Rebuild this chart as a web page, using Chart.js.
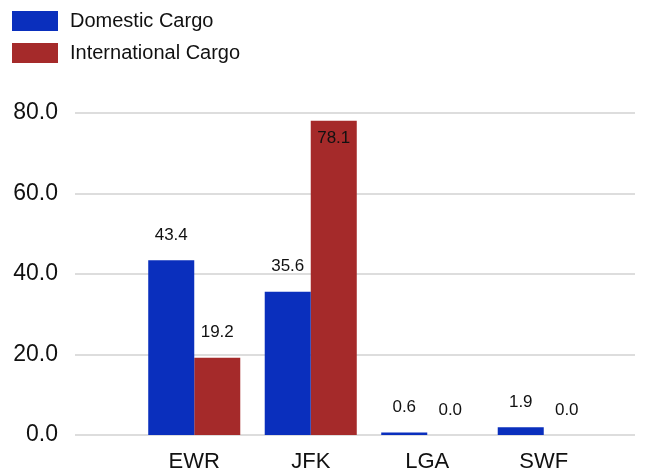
<!DOCTYPE html>
<html><head><meta charset="utf-8">
<script src="https://cdn.jsdelivr.net/npm/chart.js@4"></script>
<style>html,body{margin:0;padding:0;background:#fff}#w{width:646px;height:476px;position:relative}
.lg{position:absolute;left:12px;font:20px 'Liberation Sans',Arial,sans-serif;color:#111;display:flex;align-items:center}
.lg i{display:inline-block;width:46px;height:20px;margin-right:12px}</style>
</head><body><div id="w"><canvas id="c" width="646" height="476"></canvas>
<div class="lg" style="top:9px"><i style="background:#0a2fbd"></i>Domestic Cargo</div>
<div class="lg" style="top:41px"><i style="background:#a52a2a"></i>International Cargo</div>
</div>
<script>
const categories = ['EWR','JFK','LGA','SWF'];
const domestic = [43.4, 35.6, 0.6, 1.9];
const international = [19.2, 78.1, 0.0, 0.0];
const yTicks = [0, 20, 40, 60, 80];
const FONT = "'Liberation Sans', Arial, sans-serif";

const gridPlugin = {
  id: 'grid',
  beforeDatasetsDraw(chart) {
    const ctx = chart.ctx, y = chart.scales.y;
    ctx.save();
    ctx.strokeStyle = '#dddddd'; ctx.lineWidth = 2;
    yTicks.forEach(v => { const p = Math.round(y.getPixelForValue(v)); ctx.beginPath(); ctx.moveTo(75, p); ctx.lineTo(635, p); ctx.stroke(); });
    ctx.restore();
  },
  afterDatasetsDraw(chart) {
    const ctx = chart.ctx;
    ctx.save();
    ctx.font = '17px ' + FONT; ctx.fillStyle = '#111'; ctx.textAlign = 'center'; ctx.textBaseline = 'middle';
    chart.data.datasets.forEach((ds, i) => {
      chart.getDatasetMeta(i).data.forEach((bar, j) => {
        const v = ds.data[j];
        let yy = bar.y - 25;
        if (yy < chart.scales.y.top) yy = bar.y + 18;
        ctx.fillText(v.toFixed(1), bar.x, yy);
      });
    });
    ctx.restore();
  }
};

new Chart(document.getElementById('c'), {
  type: 'bar',
  data: { labels: categories, datasets: [
    { label: 'Domestic Cargo', data: domestic, backgroundColor: '#0a2fbd' },
    { label: 'International Cargo', data: international, backgroundColor: '#a52a2a' }
  ]},
  options: {
    responsive: false, animation: false,
    layout: { padding: { left: 0, right: 44, top: 113, bottom: 0 } },
    datasets: { bar: { categoryPercentage: 0.79, barPercentage: 1.0 } },
    plugins: { legend: { display: false }, tooltip: { enabled: false } },
    scales: {
      x: { afterFit(s) { s.height = 41; }, grid: { display: false }, border: { display: false },
        ticks: { maxRotation: 0, minRotation: 0, autoSkip: false, font: { size: 22, family: FONT }, color: '#111', padding: 6 } },
      y: { min: 0, max: 80, afterFit(s) { s.width = 136; s.paddingTop = 0; s.paddingBottom = 0; },
        grid: { display: false }, border: { display: false },
        ticks: { stepSize: 20, callback: v => v.toFixed(1), font: { size: 23, family: FONT }, color: '#111', padding: 70 } }
    }
  },
  plugins: [gridPlugin]
});
</script></body></html>
